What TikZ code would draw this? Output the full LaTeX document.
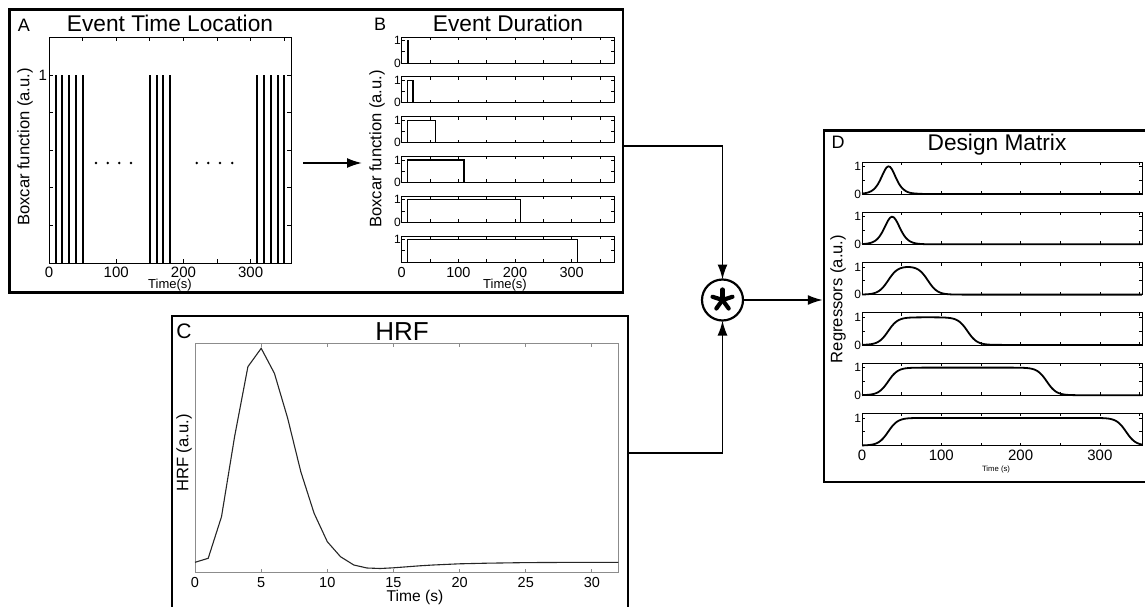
\documentclass[tikz,border=0pt]{standalone}
\usepackage{fontspec}
\setmainfont{Liberation Sans}
\usetikzlibrary{arrows.meta}
\begin{document}
\begin{tikzpicture}[x=1pt,y=-1pt,
  declare function={lg(\u)=1/(1+exp(-max(min(\u,7),-7)));
                     reg(\u,\w)=(lg(0.165*(\u-33))-lg(0.165*(\u-33-\w)))/tanh(min(0.165*\w/4,4));},
  every node/.style={inner sep=0pt,outer sep=0pt},
  frame/.style={line width=2.4pt},
  ax/.style={line width=0.8pt},
  axg/.style={line width=0.9pt,draw=black!45},
  conn/.style={line width=1.8pt,-{Latex[length=15pt,width=10pt]}},
  ttl/.style={font=\fontsize{22.7pt}{24pt}\selectfont,anchor=base},
  plab/.style={font=\fontsize{18pt}{20pt}\selectfont,anchor=base},
  ylab/.style={font=\fontsize{16.6pt}{18pt}\selectfont,rotate=90},
  tlab/.style={font=\fontsize{15pt}{16pt}\selectfont,anchor=base},
  slab/.style={font=\fontsize{12pt}{13pt}\selectfont,anchor=east,xshift=-1pt},
  xlab/.style={font=\fontsize{13pt}{14pt}\selectfont,anchor=base}]
\useasboundingbox (0,0) rectangle (1145,607);
\clip (0,0) rectangle (1145,607);
% ---------- frames
\draw[frame] (9.5,9.5) rectangle (623,292.5);
\draw[frame] (172,316) rectangle (628,640);
\draw[frame] (824,130.5) rectangle (1170,482);
% ---------- panel A
\node[plab] (labA) at (24,31.5) {A};
\node[ttl] (ttlA) at (170,31.3) {Event Time Location};
\node[ylab] (ylA) at (25,147) {Boxcar function (a.u.)};
\begin{scope}[shift={(49,263)},x=0.6722pt,y=188pt]
  \draw[ax] (0,0) rectangle (360,1.202);
  \foreach \t in {50,100,...,350}{\draw[ax] (\t,0) -- ++(0pt,4pt); \draw[ax] (\t,1.202) -- ++(0pt,-4pt);}
  \foreach \v in {0.2,0.4,0.6,0.8,1.0}{\draw[ax] (0,\v) -- ++(4pt,0pt); \draw[ax] (360,\v) -- ++(-4pt,0pt);}
  \foreach \t in {10,20,30,40,50,150,160,170,180,310,320,330,340,350}{\draw[line width=2pt] (\t,0) -- (\t,1);}
  \foreach \t in {0,100,200,300}{\node[tlab,yshift=-14pt] (xA\t) at (\t,0) {\t};}
  \node[tlab,anchor=east,xshift=-2pt] (yA1) at (0,1) {1};
\end{scope}
\foreach \x in {96,107.7,119.3,131,196.7,208.3,220,232.3}{\fill (\x,163) circle (1.4pt);}
\node[xlab] (xtA) at (170,288.5) {Time(s)};
% ---------- panel B
\node[plab] (labB) at (380,31) {B};
\node[ttl] (ttlB) at (508,31.3) {Event Duration};
\node[ylab] (ylB) at (377,149) {Boxcar function (a.u.)};
\foreach \k/\d in {0/1,1/10,2/50,3/100,4/200,5/300}{
  \begin{scope}[shift={(401.7,{63+39.8*\k})},x=0.5666pt,y=22.41pt]
    \draw[ax] (0,0) rectangle (375,1.16);
    \foreach \t in {50,100,...,350}{\draw[ax] (\t,0) -- ++(0pt,3pt); \draw[ax] (\t,1.16) -- ++(0pt,-3pt);}
    \foreach \v in {0.5,1}{\draw[ax] (0,\v) -- ++(3pt,0pt); \draw[ax] (375,\v) -- ++(-3pt,0pt);}
    \draw[line width=1.3pt] (10,0) -- (10,1) -- ({10+\d},1) -- ({10+\d},0);
    \node[slab] (yBa\k) at (0,1) {1};
    \ifnum\k<5 \node[slab] (yBb\k) at (0,0) {0};\fi
  \end{scope}}
\foreach \t in {0,100,200,300}{\node[tlab,font=\fontsize{14.5pt}{15pt}\selectfont] (xB\t) at ({401.7+0.5666*\t},277) {\t};}
\node[xlab] (xtB) at (505,288.5) {Time(s)};
% ---------- panel C
\node[font=\fontsize{21pt}{22pt}\selectfont,anchor=base] (labC) at (184,338) {C};
\node[font=\fontsize{26pt}{28pt}\selectfont,anchor=base] (ttlC) at (402,340) {HRF};
\node[ylab] (ylC) at (184,453) {HRF (a.u.)};
\draw[axg] (195,343.3) rectangle (618.3,572.3);
\foreach \k in {0,...,6}{
  \draw[axg] ({195+66.15*\k},572.3) -- ++(0,-3.5);
  \draw[axg] ({195+66.15*\k},343.3) -- ++(0,3.5);
  \pgfmathtruncatemacro{\lab}{5*\k}
  \node[tlab,font=\fontsize{14.5pt}{15pt}\selectfont] (xC\k) at ({195+66.15*\k},587.7) {\lab};}
\node[font=\fontsize{15.6pt}{16pt}\selectfont,anchor=base] (xtC) at (415,601) {Time (s)};
\draw[line width=1.1pt,black!85] plot coordinates {(195.0,562.3) (208.2,558.3) (221.5,516.7) (234.7,436) (247.9,366.7) (261.2,348.3) (274.4,373.3) (287.6,418) (300.8,471.7) (314.1,513.3) (327.3,541.7) (340.5,556.7) (353.8,565) (367.0,568) (380.2,568.5) (393.5,567.8) (406.7,566.8) (419.9,565.8) (433.1,565) (446.4,564.4) (459.6,563.8) (486.1,563.2) (525.8,562.6) (565.4,562.4) (618.3,562.3)};
% ---------- panel D
\node[plab] (labD) at (838,148.5) {D};
\node[ttl] (ttlD) at (997,150) {Design Matrix};
\node[ylab] (ylD) at (838,299) {Regressors (a.u.)};
\foreach \k/\d in {0/1,1/10,2/50,3/100,4/200,5/300}{
  \begin{scope}[shift={(862,{194+50.3*\k})},x=0.793pt,y=27.59pt]
    \draw[ax] (0,0) rectangle (353,1.16);
    \foreach \t in {50,100,...,350}{\draw[ax] (\t,0) -- ++(0pt,3pt); \draw[ax] (\t,1.16) -- ++(0pt,-3pt);}
    \foreach \v in {0.5,1}{\draw[ax] (0,\v) -- ++(3pt,0pt); \draw[ax] (353,\v) -- ++(-3pt,0pt);}
    \draw[line width=1.8pt] plot[domain=0:353,samples=160] (\x,{reg(\x,\d)});
    \node[slab] (yDa\k) at (0,1) {1};
    \ifnum\k<5 \node[slab] (yDb\k) at (0,0) {0};\fi
  \end{scope}}
\foreach \t in {0,100,200,300}{\node[tlab] (xD\t) at ({862+0.793*\t},460) {\t};}
\node[font=\fontsize{7.7pt}{8pt}\selectfont,anchor=base] (xtD) at (996,471) {Time (s)};
% ---------- convolution and connectors
\node[circle,draw,line width=2.2pt,minimum size=41pt] (conv) at (722.5,300) {};
\foreach \a in {90,18,162,234,306}{\draw[line width=4.2pt,line cap=round] (conv.center) -- ++(\a:10.5pt);}
\coordinate (aout) at (303,163);
\coordinate (bin) at (362,163);
\coordinate (bout) at (623,146);
\coordinate (cout) at (628,453);
\coordinate (din) at (822.8,300);
\draw[conn] (aout) -- (bin);
\draw[conn] (bout) -| (conv.north);
\draw[conn] (cout) -| (conv.south);
\draw[conn] (conv.east) -- (din);
\end{tikzpicture}
\end{document}
